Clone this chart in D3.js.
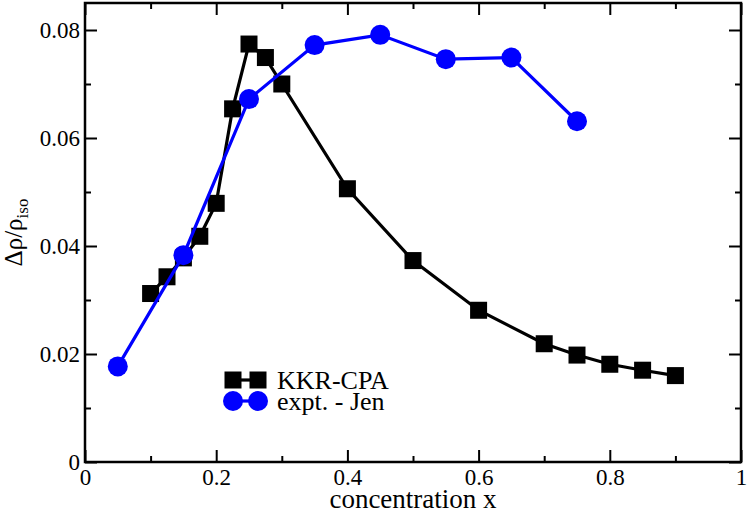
<!DOCTYPE html>
<html>
<head>
<meta charset="utf-8">
<script src="https://cdn.jsdelivr.net/npm/d3@7"></script>
<style>
  body { margin: 0; background: #fff; }
  svg text { font-family: "Liberation Serif", "DejaVu Serif", serif; }
</style>
</head>
<body>
<div id="chart"></div>
<script>
// KKR-CPA calculation (black squares)
var kkrX = [0.1, 0.125, 0.15, 0.175, 0.2, 0.225, 0.25, 0.275, 0.3, 0.4, 0.5, 0.6, 0.7, 0.75, 0.8, 0.85, 0.9];
var kkrY = [0.0312, 0.0343, 0.0378, 0.0418, 0.0479, 0.0654, 0.0774, 0.0749, 0.0700, 0.0506, 0.0373, 0.0281, 0.0219, 0.0198, 0.0181, 0.0170, 0.0160];

// experiment (blue circles)
var jenX = [0.05, 0.15, 0.25, 0.35, 0.45, 0.55, 0.65, 0.75];
var jenY = [0.0177, 0.0383, 0.0672, 0.0772, 0.0791, 0.0746, 0.0749, 0.0631];

var xMajor = [0, 0.2, 0.4, 0.6, 0.8, 1];
var xMinor = [0.1, 0.3, 0.5, 0.7, 0.9];
var yMajor = [0, 0.02, 0.04, 0.06, 0.08];
var yMinor = [0.01, 0.03, 0.05, 0.07];

var legendLabels = ["KKR-CPA", "expt. - Jen"];

var width = 747, height = 513;
var pLeft = 85, pRight = 741, pTop = 3, pBottom = 462;
var serif = "'Liberation Serif', 'DejaVu Serif', serif";

var x = d3.scaleLinear().domain([0, 1]).range([pLeft, pRight]);
var y = d3.scaleLinear().domain([0, 0.085]).range([pBottom, pTop]);

var svg = d3.select("#chart").append("svg")
    .attr("width", width)
    .attr("height", height)
    .style("font-family", serif);

var fmt = function(d) { return d === 0 ? "0" : (d === 1 ? "1" : String(d)); };

// ticks, all pointing inward
function tickAxis(axisFn, scale, values, size, labels, transform) {
  var g = svg.append("g")
      .attr("transform", transform)
      .call(axisFn(scale).tickValues(values).tickSizeInner(-size).tickSizeOuter(0)
        .tickPadding(labels ? 8 : 0).tickFormat(labels ? fmt : ""))
      .attr("font-family", serif);
  g.select(".domain").remove();
  g.selectAll(".tick line").attr("stroke", "#000").attr("stroke-width", 2);
  g.selectAll(".tick text").attr("font-size", 23).attr("fill", "#000")
    .style("font-family", serif);
  return g;
}

var xb = tickAxis(d3.axisBottom, x, xMajor, 12, true, "translate(0," + pBottom + ")");
xb.selectAll(".tick text").attr("y", 5).attr("dy", "0.8em");
tickAxis(d3.axisBottom, x, xMinor, 6, false, "translate(0," + pBottom + ")");
tickAxis(d3.axisTop, x, xMajor, 12, false, "translate(0," + pTop + ")");
tickAxis(d3.axisTop, x, xMinor, 6, false, "translate(0," + pTop + ")");

var yl = tickAxis(d3.axisLeft, y, yMajor, 12, true, "translate(" + pLeft + ",0)");
yl.selectAll(".tick text").attr("x", -5);
tickAxis(d3.axisLeft, y, yMinor, 6, false, "translate(" + pLeft + ",0)");
tickAxis(d3.axisRight, y, yMajor, 12, false, "translate(" + pRight + ",0)");
tickAxis(d3.axisRight, y, yMinor, 6, false, "translate(" + pRight + ",0)");

// frame
svg.append("rect")
    .attr("x", pLeft).attr("y", pTop)
    .attr("width", pRight - pLeft).attr("height", pBottom - pTop)
    .attr("fill", "none").attr("stroke", "#000").attr("stroke-width", 2.5);

var line = d3.line().x(function(d) { return x(d[0]); }).y(function(d) { return y(d[1]); });

var kkr = d3.zip(kkrX, kkrY);
var jen = d3.zip(jenX, jenY);
var sq = 17, rad = 10;

svg.append("path").datum(kkr).attr("d", line)
    .attr("fill", "none").attr("stroke", "#000").attr("stroke-width", 3.2);
svg.selectAll(".sq").data(kkr).enter().append("rect")
    .attr("x", function(d) { return x(d[0]) - sq / 2; })
    .attr("y", function(d) { return y(d[1]) - sq / 2; })
    .attr("width", sq).attr("height", sq).attr("fill", "#000");

svg.append("path").datum(jen).attr("d", line)
    .attr("fill", "none").attr("stroke", "#0000ff").attr("stroke-width", 3.2);
svg.selectAll(".ci").data(jen).enter().append("circle")
    .attr("cx", function(d) { return x(d[0]); })
    .attr("cy", function(d) { return y(d[1]); })
    .attr("r", rad).attr("fill", "#0000ff");

// legend
var leg = svg.append("g");
[0, 1].forEach(function(i) {
  var cy = 380 + i * 21, col = i === 0 ? "#000" : "#0000ff";
  leg.append("line").attr("x1", 233).attr("x2", 258).attr("y1", cy).attr("y2", cy)
      .attr("stroke", col).attr("stroke-width", 3.2);
  [233, 258].forEach(function(cx) {
    if (i === 0) {
      leg.append("rect").attr("x", cx - sq / 2).attr("y", cy - sq / 2)
          .attr("width", sq).attr("height", sq).attr("fill", col);
    } else {
      leg.append("circle").attr("cx", cx).attr("cy", cy).attr("r", rad).attr("fill", col);
    }
  });
  leg.append("text").attr("x", 277).attr("y", cy + 9)
      .attr("font-size", 26).text(legendLabels[i]);
});

// axis titles
svg.append("text")
    .attr("x", (pLeft + pRight) / 2).attr("y", 508)
    .attr("text-anchor", "middle").attr("font-size", 27)
    .text("concentration x");

var yt = svg.append("text")
    .attr("transform", "translate(22," + ((pTop + pBottom) / 2) + ") rotate(-90)")
    .attr("text-anchor", "middle").attr("font-size", 25);
yt.append("tspan").text("Δρ/ρ");
yt.append("tspan").attr("font-size", 17).attr("dy", 6).text("iso");
</script>
</body>
</html>
